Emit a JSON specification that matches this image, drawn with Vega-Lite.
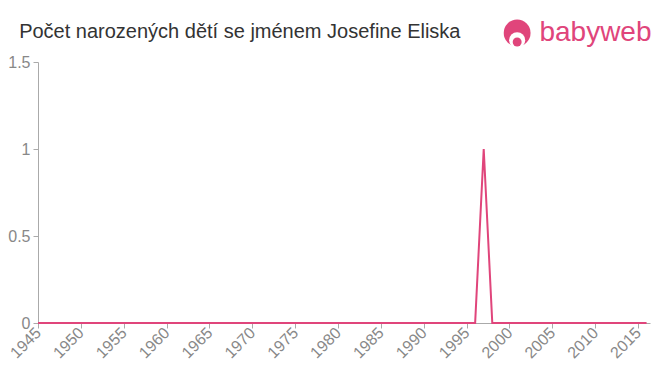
{
  "$schema": "https://vega.github.io/schema/vega-lite/v6.json",
  "width": 612,
  "height": 261,
  "autosize": {"type": "none"},
  "padding": {"left": 38, "top": 62, "right": 10, "bottom": 52},
  "background": "white",
  "config": {
    "view": {"stroke": null},
    "font": "Liberation Sans",
    "axis": {"labelFontSize": 16, "labelColor": "#888888", "labelFont": "Liberation Sans", "domainColor": "#aaaaaa", "tickColor": "#aaaaaa"}
  },
  "datasets": {
    "births": [
      {"year": 1945, "count": 0}, {"year": 1946, "count": 0}, {"year": 1947, "count": 0}, {"year": 1948, "count": 0},
      {"year": 1949, "count": 0}, {"year": 1950, "count": 0}, {"year": 1951, "count": 0}, {"year": 1952, "count": 0},
      {"year": 1953, "count": 0}, {"year": 1954, "count": 0}, {"year": 1955, "count": 0}, {"year": 1956, "count": 0},
      {"year": 1957, "count": 0}, {"year": 1958, "count": 0}, {"year": 1959, "count": 0}, {"year": 1960, "count": 0},
      {"year": 1961, "count": 0}, {"year": 1962, "count": 0}, {"year": 1963, "count": 0}, {"year": 1964, "count": 0},
      {"year": 1965, "count": 0}, {"year": 1966, "count": 0}, {"year": 1967, "count": 0}, {"year": 1968, "count": 0},
      {"year": 1969, "count": 0}, {"year": 1970, "count": 0}, {"year": 1971, "count": 0}, {"year": 1972, "count": 0},
      {"year": 1973, "count": 0}, {"year": 1974, "count": 0}, {"year": 1975, "count": 0}, {"year": 1976, "count": 0},
      {"year": 1977, "count": 0}, {"year": 1978, "count": 0}, {"year": 1979, "count": 0}, {"year": 1980, "count": 0},
      {"year": 1981, "count": 0}, {"year": 1982, "count": 0}, {"year": 1983, "count": 0}, {"year": 1984, "count": 0},
      {"year": 1985, "count": 0}, {"year": 1986, "count": 0}, {"year": 1987, "count": 0}, {"year": 1988, "count": 0},
      {"year": 1989, "count": 0}, {"year": 1990, "count": 0}, {"year": 1991, "count": 0}, {"year": 1992, "count": 0},
      {"year": 1993, "count": 0}, {"year": 1994, "count": 0}, {"year": 1995, "count": 0}, {"year": 1996, "count": 0},
      {"year": 1997, "count": 1}, {"year": 1998, "count": 0}, {"year": 1999, "count": 0}, {"year": 2000, "count": 0},
      {"year": 2001, "count": 0}, {"year": 2002, "count": 0}, {"year": 2003, "count": 0}, {"year": 2004, "count": 0},
      {"year": 2005, "count": 0}, {"year": 2006, "count": 0}, {"year": 2007, "count": 0}, {"year": 2008, "count": 0},
      {"year": 2009, "count": 0}, {"year": 2010, "count": 0}, {"year": 2011, "count": 0}, {"year": 2012, "count": 0},
      {"year": 2013, "count": 0}, {"year": 2014, "count": 0}, {"year": 2015, "count": 0}, {"year": 2016, "count": 0}
    ],
    "logo": [{"label": "babyweb", "lx": 2000.9, "tx": 2003.5, "ly": 1.667, "fy": 1.625, "hy": 1.615}],
    "heading": [{"label": "Počet narozených dětí se jménem Josefine Eliska", "hx": 1942.8, "hy": 1.675}]
  },
  "layer": [
    {
      "data": {"name": "births"},
      "mark": {"type": "line", "color": "#e0457b", "strokeWidth": 2},
      "encoding": {
        "x": {
          "field": "year",
          "type": "quantitative",
          "scale": {"domain": [1945, 2016.4], "nice": false, "zero": false},
          "axis": {
            "values": [1945, 1950, 1955, 1960, 1965, 1970, 1975, 1980, 1985, 1990, 1995, 2000, 2005, 2010, 2015],
            "format": "d",
            "title": null,
            "grid": false,
            "labelAngle": -45,
            "labelAlign": "right",
            "labelBaseline": "middle",
            "labelFontSize": 16,
            "labelOverlap": false,
            "tickSize": 5,
            "labelPadding": 2
          }
        },
        "y": {
          "field": "count",
          "type": "quantitative",
          "scale": {"domain": [0, 1.5], "nice": false},
          "axis": {
            "values": [0, 0.5, 1, 1.5],
            "format": "~g",
            "title": null,
            "grid": false,
            "labelFontSize": 16,
            "tickSize": 5,
            "labelPadding": 3
          }
        }
      }
    },
    {
      "data": {"name": "heading"},
      "mark": {"type": "text", "color": "#333333", "fontSize": 20, "font": "Liberation Sans", "align": "left", "baseline": "middle", "clip": false},
      "encoding": {
        "x": {"field": "hx", "type": "quantitative"},
        "y": {"field": "hy", "type": "quantitative"},
        "text": {"field": "label"}
      }
    },
    {
      "data": {"name": "logo"},
      "mark": {"type": "point", "filled": true, "color": "#e0457b", "opacity": 1, "size": 720, "shape": "circle", "clip": false},
      "encoding": {
        "x": {"field": "lx", "type": "quantitative"},
        "y": {"field": "ly", "type": "quantitative"}
      }
    },
    {
      "data": {"name": "logo"},
      "mark": {"type": "point", "filled": true, "color": "white", "opacity": 1, "size": 260, "shape": "circle", "clip": false},
      "encoding": {
        "x": {"field": "lx", "type": "quantitative"},
        "y": {"field": "fy", "type": "quantitative"}
      }
    },
    {
      "data": {"name": "logo"},
      "mark": {"type": "point", "filled": true, "color": "#e0457b", "opacity": 1, "size": 80, "shape": "circle", "clip": false},
      "encoding": {
        "x": {"field": "lx", "type": "quantitative"},
        "y": {"field": "hy", "type": "quantitative"}
      }
    },
    {
      "data": {"name": "logo"},
      "mark": {"type": "text", "color": "#e0457b", "fontSize": 28, "font": "Liberation Sans", "align": "left", "baseline": "middle", "clip": false},
      "encoding": {
        "x": {"field": "tx", "type": "quantitative"},
        "y": {"field": "ly", "type": "quantitative"},
        "text": {"field": "label"}
      }
    }
  ]
}
